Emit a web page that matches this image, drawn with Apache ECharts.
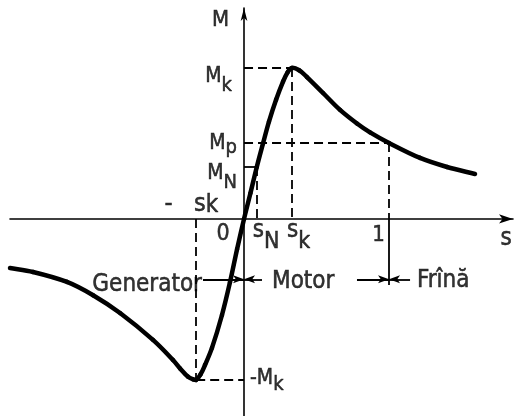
<!DOCTYPE html>
<html>
<head>
<meta charset="utf-8">
<script src="https://cdn.jsdelivr.net/npm/echarts@6/dist/echarts.min.js"></script>
<style>
  html, body { margin: 0; padding: 0; background: #fff; }
  #chart { width: 514px; height: 416px; }
</style>
</head>
<body>
<div id="chart"></div>
<script>
// Torque–slip characteristic of an induction machine: M(s)
const sCurve = [-1.614, -1.455, -1.221, -1.041, -0.855, -0.628, -0.49, -0.441, -0.386, -0.35,
                -0.33, -0.30, -0.269, -0.221, -0.152, -0.097, -0.048, 0, 0.044, 0.088,
                0.131, 0.172, 0.221, 0.269, 0.30, 0.33, 0.38, 0.434, 0.545, 0.662,
                0.779, 0.869, 1.0, 1.214, 1.4, 1.593];
const mCurve = [-0.325, -0.351, -0.417, -0.505, -0.623, -0.801, -0.934, -0.99, -1.045, -1.062,
                -1.066, -1.03, -0.967, -0.854, -0.636, -0.42, -0.2, 0, 0.17, 0.344,
                0.50, 0.645, 0.79, 0.91, 0.97, 1.0, 0.985, 0.94, 0.834, 0.722,
                0.632, 0.573, 0.503, 0.404, 0.344, 0.298];

// Characteristic points
const sN = 0.088, sK = 0.33, sKneg = -0.33, sStart = 1;
const MK = 1.0, MP = 0.503, MN = 0.344, MKneg = -1.066;

// Axis extents
const sRange = [-1.614, 1.855];
const mRange = [-1.305, 1.397];

// Operating-region arrows (drawn below the s axis)
const regionM = -0.40;
const genFrom = -0.283, motorLeftFrom = 0.124, motorRightFrom = 0.779, brakeFrom = 1.145;
const brakeLineBottom = -0.437;

const FONT = "'DejaVu Sans Condensed', 'DejaVu Sans', sans-serif";

// Builds a label with optional lowered subscript
function lbl(main, sub, size, shift) {
  const base = { fontFamily: FONT, color: '#000', textBorderColor: '#000', textBorderWidth: 0.5 };
  const rich = {
    a: Object.assign({ fontSize: size, lineHeight: size, verticalAlign: 'top' }, base),
    b: Object.assign({ fontSize: size - 1, lineHeight: size, verticalAlign: 'top',
         padding: [shift || 0, 0, 0, 0] }, base)
  };
  return { formatter: '{a|' + main + '}' + (sub ? '{b|' + sub + '}' : ''), rich: rich };
}

// Text annotations: [s, M, main, sub, size, subShift, align, offX, offY]
const annotations = [
  [0, mRange[1], 'M', '', 22, 0, 'right', -15, 1],
  [0, MK, 'M', 'k', 21, 10, 'right', -12, -2],
  [0, MP, 'M', 'p', 21, 5, 'right', -7, -10],
  [0, MN, 'M', 'N', 21, 10, 'right', -7, -4],
  [sKneg, 0, '-   s', 'k', 25, 2, 'right', 22, -27],
  [0, 0, '0', '', 23, 0, 'center', -21, 3.5],
  [sN, 0, 's', 'N', 24, 12, 'left', -4, 0],
  [sK, 0, 's', 'k', 24, 12, 'left', -5, 0],
  [sStart, 0, '1', '', 22, 0, 'center', -10.5, 5],
  [sRange[1], 0, 's', '', 24, 0, 'center', -7, 8],
  [genFrom, regionM, 'Generator', '', 24, 0, 'right', -1, -7],
  [motorLeftFrom, regionM, 'Motor', '', 24, 0, 'left', 10, -10],
  [brakeFrom, regionM, 'Frînă', '', 24, 0, 'left', 7, -11],
  [0, MKneg, '-M', 'k', 21, 7, 'left', 6, -12]
];

const dashed = [
  [[0, MK], [sK, MK]],
  [[sK, MK], [sK, 0]],
  [[0, MP], [sStart, MP]],
  [[sStart, MP], [sStart, 0]],
  [[sN, MN], [sN, 0]],
  [[sKneg, 0], [sKneg, MKneg]],
  [[sKneg, MKneg], [0, MKneg]]
];
const solid = [
  [[0, MN], [sN, MN]],
  [[sStart, 0], [sStart, brakeLineBottom]]
];
const arrows = [
  [[genFrom, regionM], [0, regionM]],
  [[motorLeftFrom, regionM], [0, regionM]],
  [[motorRightFrom, regionM], [sStart, regionM]],
  [[brakeFrom, regionM], [sStart, regionM]]
];

// Smooth curve through the data points (tangents scaled by chord length)
function renderCurve(params, api) {
  if (params.dataIndex !== 0) return null;
  const p = sCurve.map((s, i) => api.coord([s, mCurve[i]]));
  const n = p.length;
  const d = [];
  for (let i = 0; i < n - 1; i++) d.push(Math.hypot(p[i + 1][0] - p[i][0], p[i + 1][1] - p[i][1]));
  const tan = p.map((pt, i) => {
    const a = p[Math.max(0, i - 1)], b = p[Math.min(n - 1, i + 1)];
    const len = Math.hypot(b[0] - a[0], b[1] - a[1]) || 1;
    return [(b[0] - a[0]) / len, (b[1] - a[1]) / len];
  });
  const children = [];
  for (let i = 0; i < n - 1; i++) {
    const k = d[i] / 3;
    children.push({
      type: 'bezierCurve',
      shape: {
        x1: p[i][0], y1: p[i][1], x2: p[i + 1][0], y2: p[i + 1][1],
        cpx1: p[i][0] + tan[i][0] * k, cpy1: p[i][1] + tan[i][1] * k,
        cpx2: p[i + 1][0] - tan[i + 1][0] * k, cpy2: p[i + 1][1] - tan[i + 1][1] * k
      },
      style: { stroke: '#000', lineWidth: 4.5, fill: null, lineCap: 'round' }
    });
  }
  return { type: 'group', children: children };
}

const chart = echarts.init(document.getElementById('chart'), null, { renderer: 'canvas' });

const axisCommon = {
  type: 'value',
  splitLine: { show: false },
  axisTick: { show: false },
  axisLabel: { show: false }
};

chart.setOption({
  animation: false,
  backgroundColor: '#ffffff',
  grid: { left: 10, right: 1, top: 8, bottom: 0, containLabel: false },
  xAxis: Object.assign({}, axisCommon, {
    min: sRange[0], max: sRange[1],
    axisLine: { show: true, onZero: true, symbol: ['none', 'arrow'], symbolSize: [7, 14],
                lineStyle: { color: '#000', width: 1.6 } }
  }),
  yAxis: Object.assign({}, axisCommon, {
    min: mRange[0], max: mRange[1],
    axisLine: { show: true, onZero: true, symbol: ['none', 'arrow'], symbolSize: [5, 13],
                lineStyle: { color: '#000', width: 1.6 } }
  }),
  series: [
    {
      type: 'custom',
      coordinateSystem: 'cartesian2d',
      silent: true,
      z: 5,
      data: sCurve.map((s, i) => [s, mCurve[i]]),
      renderItem: renderCurve
    },
    {
      type: 'line',
      data: [],
      silent: true,
      markLine: {
        silent: true,
        symbol: 'none',
        label: { show: false },
        lineStyle: { color: '#000', width: 1.8, type: [9, 5] },
        data: dashed.map(p => [{ coord: p[0] }, { coord: p[1] }])
      }
    },
    {
      type: 'line',
      data: [],
      silent: true,
      markLine: {
        silent: true,
        symbol: 'none',
        label: { show: false },
        lineStyle: { color: '#000', width: 1.8, type: 'solid' },
        data: solid.map(p => [{ coord: p[0] }, { coord: p[1] }])
      }
    },
    {
      type: 'line',
      data: [],
      silent: true,
      markLine: {
        silent: true,
        symbol: ['none', 'arrow'],
        symbolSize: [6, 11],
        label: { show: false },
        lineStyle: { color: '#000', width: 1.8, type: 'solid' },
        data: arrows.map(p => [{ coord: p[0] }, { coord: p[1] }])
      }
    },
    {
      type: 'scatter',
      silent: true,
      symbol: 'circle',
      symbolSize: 1,
      itemStyle: { color: 'rgba(0,0,0,0)' },
      z: 10,
      data: annotations.map(a => {
        const t = lbl(a[2], a[3], a[4], a[5]);
        return {
          value: [a[0], a[1]],
          label: {
            show: true,
            position: 'inside',
            align: a[6],
            verticalAlign: 'top',
            offset: [a[7], a[8]],
            color: '#000',
            formatter: t.formatter,
            rich: t.rich
          }
        };
      })
    }
  ]
});
</script>
</body>
</html>
